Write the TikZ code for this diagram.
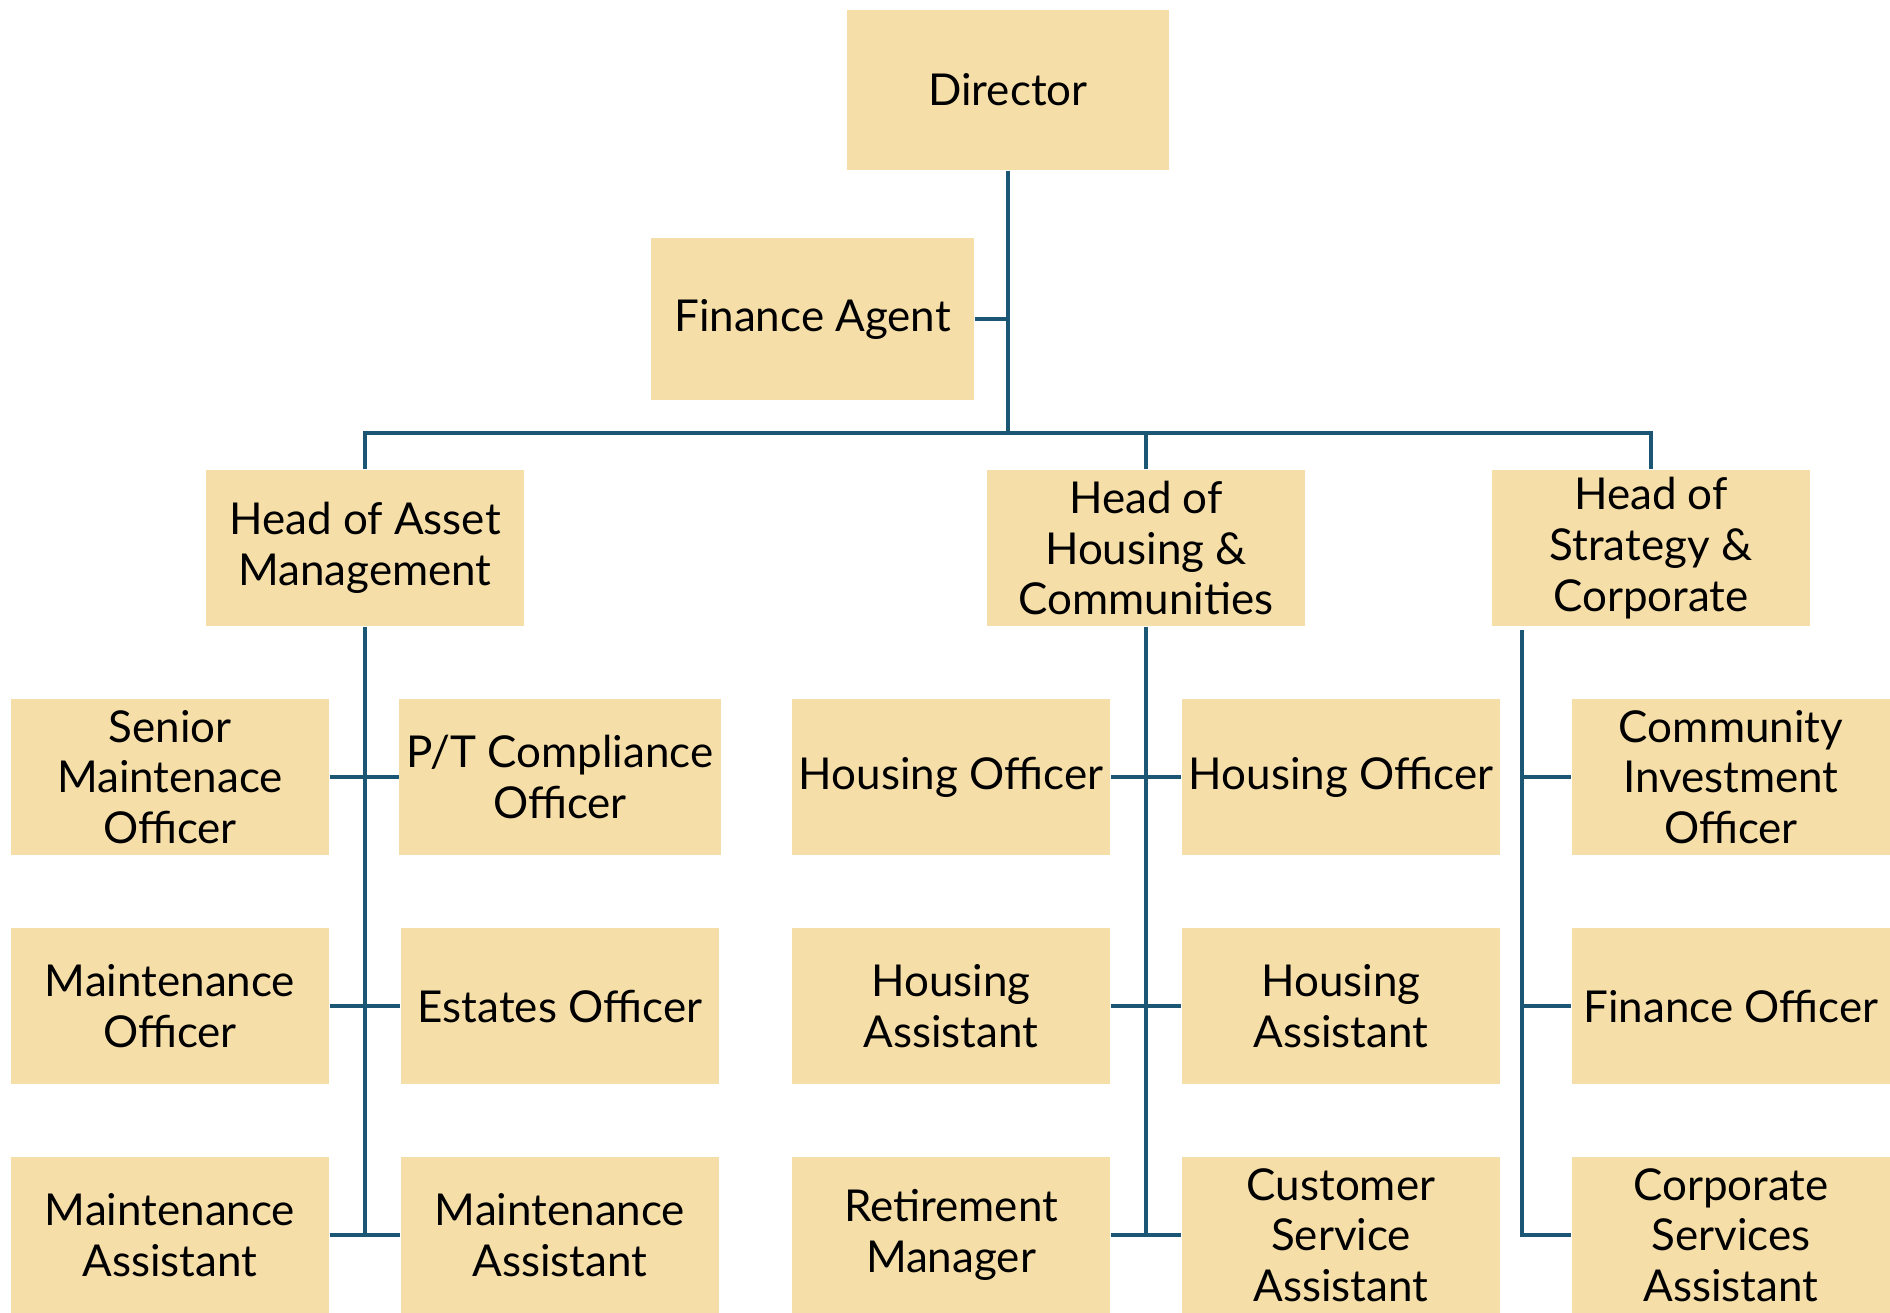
\documentclass[tikz,border=0pt]{standalone}
\usepackage{fontspec}
\setmainfont{Lato}
\usetikzlibrary{positioning}
\definecolor{boxfill}{HTML}{F5DEA8}
\definecolor{linkblue}{HTML}{1B5674}

\begin{document}
\begin{tikzpicture}[
    role/.style={fill=boxfill,minimum width=3.18cm,minimum height=1.56cm,align=center,inner sep=2pt,
      font=\fontsize{12.5}{14.4}\selectfont},
    link/.style={draw=linkblue,line width=1.1pt}]
  \useasboundingbox (0,0) rectangle (18.9,-13.12);
  % top of the chart
  \node[role,minimum width=3.22cm,minimum height=1.6cm] (dir) at (10.08,-0.90) {Director};
  \node[role,minimum width=3.23cm,minimum height=1.62cm] (fin) at (8.125,-3.19) {Finance Agent};
  \node[role] (asset) at (3.65,-5.48) {Head of Asset\\Management};
  \node[role] (house) at (11.46,-5.48) {Head of\\Housing \&\\Communities};
  \node[role] (strat) at (16.51,-5.48) {Head of\\Strategy \&\\Corporate};
  % staff rows
  \node[role] (a1) at (1.70,-7.77) {Senior\\Maintenace\\Officer};
  \node[role] (b1) at (5.60,-7.77) {P/T Compliance\\Officer};
  \node[role] (c1) at (9.51,-7.77) {Housing Officer};
  \node[role] (d1) at (13.41,-7.77) {Housing Officer};
  \node[role] (e1) at (17.31,-7.77) {Community\\Investment\\Officer};
  \node[role] (a2) at (1.70,-10.06) {Maintenance\\Officer};
  \node[role] (b2) at (5.60,-10.06) {Estates Officer};
  \node[role] (c2) at (9.51,-10.06) {Housing\\Assistant};
  \node[role] (d2) at (13.41,-10.06) {Housing\\Assistant};
  \node[role] (e2) at (17.31,-10.06) {Finance Officer};
  \node[role] (a3) at (1.70,-12.35) {Maintenance\\Assistant};
  \node[role] (b3) at (5.60,-12.35) {Maintenance\\Assistant};
  \node[role] (c3) at (9.51,-12.35) {Retirement\\Manager};
  \node[role] (d3) at (13.41,-12.35) {Customer\\Service\\Assistant};
  \node[role] (e3) at (17.31,-12.35) {Corporate\\Services\\Assistant};
  % connectors
  \coordinate (bus) at (10.08,-4.33);
  \coordinate (stop) at (15.22,-6.30);
  \draw[link] (dir.south) -- (bus);
  \draw[link] (fin.east) -- (fin.east -| dir.south);
  \draw[link] (asset.north) |- (bus) -| (strat.north);
  \draw[link] (house.north) -- (house.north |- bus);
  \draw[link] (asset.south) -- (asset.south |- a3.east);
  \draw[link] (house.south) -- (house.south |- c3.east);
  \draw[link] (stop) |- (e3.west);
  \foreach \r in {1,2,3} {
    \draw[link] (a\r.east) -- (b\r.west);
    \draw[link] (c\r.east) -- (d\r.west);
    \draw[link] (stop |- e\r.west) -- (e\r.west);
  }
\end{tikzpicture}
\end{document}
